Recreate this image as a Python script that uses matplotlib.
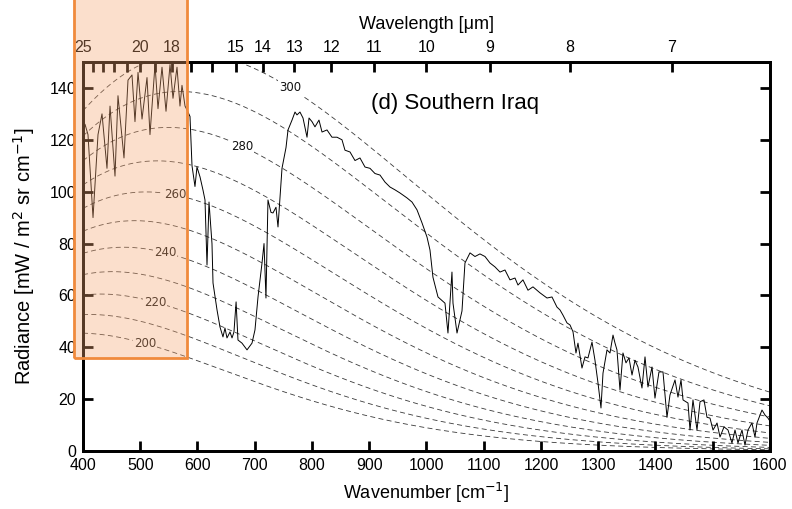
import numpy as np
import matplotlib
matplotlib.use("Agg")
import matplotlib.pyplot as plt
from matplotlib.patches import Rectangle

plt.rcParams['font.family'] = ['Liberation Sans', 'DejaVu Sans']

# measured spectrum, wavenumber [cm-1] and radiance [mW / m2 sr cm-1]
wavenumber = [401, 403.5, 408.7, 417.5, 426.2, 433.2, 441.9, 447.2, 455.9, 461.1,
              471.6, 478.6, 485.6, 490.8, 496.1, 503.1, 511.8, 517.0, 525.8, 531.0,
              538.0, 545.0, 552.0, 557.2, 564.2, 569.4, 572.9, 578.2, 581.7, 586.9,
              590.4, 595.6, 599.1, 604.4, 609.6, 613.1, 616.6, 620.1, 625.3, 627.1,
              634.1, 639.3, 644.5, 648.0, 651.5, 656.8, 660.3, 663.7, 667.4, 670.7,
              677.7, 686.5, 695.2, 700.4, 705.7, 712.7, 716.2, 719.6, 723.1, 728.4,
              731.9, 737.1, 740.6, 747.6, 754.6, 758.1, 765.1, 770.3, 773.8, 779.0,
              784.3, 791.3, 794.8, 800.0, 805.2, 812.2, 817.5, 826.2, 834.9, 843.7,
              852.4, 857.6, 866.4, 875.1, 883.8, 892.6, 901.3, 910.0, 918.8, 927.5,
              936.2, 945.0, 953.7, 965.9, 974.7, 983.4, 992.1, 1000.9, 1006.1, 1011.3,
              1020.1, 1027.1, 1032.3, 1037.5, 1044.5, 1046.3, 1053.3, 1062.0, 1067.2, 1076.0,
              1084.7, 1093.4, 1102.2, 1110.9, 1119.6, 1128.4, 1137.1, 1145.8, 1154.6, 1159.8,
              1168.5, 1177.3, 1186.0, 1198.2, 1210.5, 1219.2, 1227.9, 1233.2, 1238.4, 1245.4,
              1250.7, 1255.9, 1261.1, 1264.6, 1271.6, 1276.9, 1282.1, 1289.1, 1294.3, 1299.6,
              1304.8, 1308.3, 1315.3, 1320.5, 1325.8, 1329.3, 1332.7, 1338.0, 1343.2, 1348.5,
              1353.7, 1359.0, 1364.2, 1369.4, 1376.4, 1381.7, 1386.9, 1393.9, 1399.1, 1406.1,
              1413.1, 1420.1, 1425.3, 1434.1, 1439.3, 1444.6, 1448.1, 1456.8, 1460.3, 1465.5,
              1472.5, 1477.8, 1484.7, 1490.0, 1495.2, 1500.5, 1507.5, 1512.7, 1519.7, 1526.7,
              1533.6, 1538.9, 1544.1, 1551.1, 1556.3, 1561.6, 1568.5, 1573.8, 1577.3, 1586.0,
              1591.3, 1596.5, 1600]
radiance = [123, 126, 122, 90, 122, 130, 109, 133, 106, 137,
            113, 143, 145, 127, 146, 128, 144, 122, 149, 132,
            148, 131, 149, 136, 148, 133, 141, 133, 131.5, 129,
            110, 102, 109.5, 105.7, 100.6, 96.8, 71.7, 96, 80, 64.8,
            54.4, 47.8, 44, 47.4, 43.6, 45.9, 43.6, 45.9, 57.5, 42.8,
            41.6, 39, 41.6, 46.7, 59.4, 72.5, 80, 59, 96.8, 92,
            91.8, 94, 86.4, 109, 117, 123.8, 127.6, 130.7, 129.6, 130.7,
            128.4, 121, 128.4, 127, 125, 127.6, 123, 123.8, 121, 121,
            120, 116, 115.3, 112, 113, 109.5, 109, 107, 106.4, 103.7,
            101.8, 100.7, 99.5, 97.6, 96, 93, 88, 82.5, 77.5, 67,
            59.4, 58, 57, 45.5, 69, 57, 45.5, 54, 72.5, 76.4,
            75, 76, 75, 72.5, 71, 69, 69.8, 66, 66.7, 64,
            66, 62, 63.3, 61, 59, 59.4, 55.5, 54.4, 52.4, 49.4,
            48.6, 46, 37.8, 41.6, 32, 36.3, 35.9, 42, 35, 26.2,
            16.6, 30, 39, 37.8, 44.7, 41.6, 39, 23.5, 37.8, 34,
            35.9, 29.3, 35, 32.4, 24.3, 36.3, 24.7, 32.4, 20.4, 30.5,
            30.5, 13, 21.6, 27.4, 20.8, 27.4, 19.7, 18.5, 8.1, 19.7,
            8.1, 19, 19.7, 13, 12.7, 8.1, 10.8, 5.4, 9.3, 8.1,
            3.1, 8.1, 3.1, 8.1, 2.3, 8.1, 10.8, 5.4, 10.8, 15.8,
            13.9, 12.7, 11.5]

# blackbody reference temperatures [K]
temperatures = [200, 210, 220, 230, 240, 250, 260, 270, 280, 290, 300]
label_temps = [300, 280, 260, 240, 220, 200]
label_wn = [762, 678, 561, 543, 526, 508]

# top axis in wavelength [um]
wavelengths = [25, 24, 23, 22, 21, 20, 19, 18, 17, 16, 15, 14, 13, 12, 11, 10, 9, 8, 7]
wl_labels = ['25', '', '', '', '', '20', '', '18', '', '', '15', '14', '13', '12',
             '11', '10', '9', '8', '7']

C1 = 1.191042e-5   # mW / (m2 sr cm-4)
C2 = 1.4387752     # cm K


def planck(nu, t):
    nu = np.asarray(nu, dtype=float)
    return C1 * nu ** 3 / (np.exp(C2 * nu / t) - 1.0)


fig = plt.figure(figsize=(7.92, 5.09), dpi=100)
ax = fig.add_axes([0.1048, 0.1139, 0.8674, 0.7643])

nu = np.linspace(400, 1600, 600)
for t in temperatures:
    ax.plot(nu, planck(nu, t), color='#3a3a3a', lw=0.6, ls=(0, (6, 4)), zorder=1)

for t, w in zip(label_temps, label_wn):
    ax.text(w, planck(w, t), str(t), fontsize=8.5, family='DejaVu Sans', color='#111111',
            ha='center', va='center', zorder=2,
            bbox=dict(facecolor='white', edgecolor='none', pad=0.8))

ax.plot(wavenumber, radiance, color='black', lw=0.7, zorder=3)

ax.text(1050, 134, '(d) Southern Iraq', fontsize=16, ha='center', va='center')

ax.set_xlim(400, 1600)
ax.set_ylim(0, 150)
ax.set_xticks(range(400, 1601, 100))
ax.set_yticks(range(0, 141, 20))
ax.tick_params(direction='in', length=7, width=2, labelsize=11.5, pad=5,
               right=True)
ax.set_xlabel('Wavenumber [cm$^{-1}$]', fontsize=13, labelpad=6)
ax.set_ylabel('Radiance [mW / m$^2$ sr cm$^{-1}$]', fontsize=14.5, labelpad=9)
for sp in ax.spines.values():
    sp.set_linewidth(2)

top = ax.twiny()
top.set_xlim(ax.get_xlim())
top.set_xticks([1e4 / w for w in wavelengths])
top.set_xticklabels(wl_labels)
top.tick_params(direction='in', length=7, width=2, labelsize=11.5, pad=5)
top.set_xlabel('Wavelength [μm]', fontsize=13, labelpad=8)
for sp in top.spines.values():
    sp.set_linewidth(2)

# highlighted far-infrared band
band = Rectangle((384, 35.9), 197, 200, facecolor='#f4a46e', alpha=0.35,
                 edgecolor='none', clip_on=False, zorder=10)
top.add_patch(band)
edge = Rectangle((384, 35.9), 197, 200, facecolor='none', edgecolor='#f08a3c',
                 lw=2, clip_on=False, zorder=11)
top.add_patch(edge)

fig.savefig('out.png', dpi=100)
